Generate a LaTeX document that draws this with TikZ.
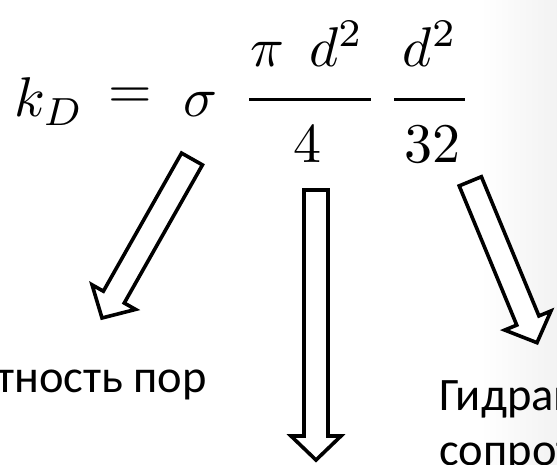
\documentclass[tikz,border=0pt]{standalone}
\usepackage{amsmath}
\usepackage{fontspec}
\newfontfamily\rufont{Carlito}
\usetikzlibrary{calc}
\tikzset{
  mth/.style={inner sep=0pt, scale=5.6},
  txt/.style={inner sep=0pt, font=\rufont\fontsize{46.5}{56}\selectfont},
  fbar/.style={line width=3.5pt},
  barrow/.style={draw=black, fill=white, line width=3.6pt, line join=miter, miter limit=10},
}
\newcommand\blockarrow[2]{%
  \path ($(#2)!24pt!(#1)$) coordinate (#1h);
  \draw[barrow] ($(#1)!12pt!90:(#2)$) -- ($(#1h)!12pt!90:(#2)$) -- ($(#1h)!25pt!90:(#2)$)
    -- (#2) -- ($(#1h)!25pt!-90:(#2)$) -- ($(#1h)!12pt!-90:(#2)$) -- ($(#1)!12pt!-90:(#2)$) -- cycle;
}
\begin{document}
\begin{tikzpicture}[x=1pt, y=-1pt]
\useasboundingbox (0,0) rectangle (557,465);
\clip (0,0) rectangle (557,465);
\fill[white] (0,0) rectangle (557,465);
\shade[left color=white, right color=black!5] (480,0) rectangle (557,465);

% formula
\node[mth, anchor=base west] (k) at (13,117) {$k_D$};
\node[mth] (eq) at (130,98) {$=$};
\node[mth, anchor=base] (sig) at (201,117) {$\sigma$};
\draw[fbar] (249,99.5) -- (371,99.5);
\node[mth, anchor=base] (n1) at (307,67) {$\pi\;\,d^2$};
\node[mth, anchor=base] (d1) at (307,163) {$4$};
\draw[fbar] (394,99.5) -- (465,99.5);
\node[mth, anchor=base] (n2) at (430,67) {$d^2$};
\node[mth, anchor=base] (d2) at (432,163) {$32$};

% texts
\node[txt, anchor=base east] (t1) at (207,392) {Плотность пор};
\node[txt, anchor=base west] (t2) at (439,410) {Гидравлическое};
\node[txt, anchor=base west] (t3) at (439,465) {сопротивление};

% arrows
\coordinate (la) at (192,159);
\coordinate (lb) at (102,318);
\coordinate (ma) at (316,190);
\coordinate (mb) at (316,460);
\coordinate (ra) at (470.3,181.3);
\coordinate (rb) at (537,342.7);
\blockarrow{la}{lb}
\blockarrow{ma}{mb}
\blockarrow{ra}{rb}
\end{tikzpicture}
\end{document}
